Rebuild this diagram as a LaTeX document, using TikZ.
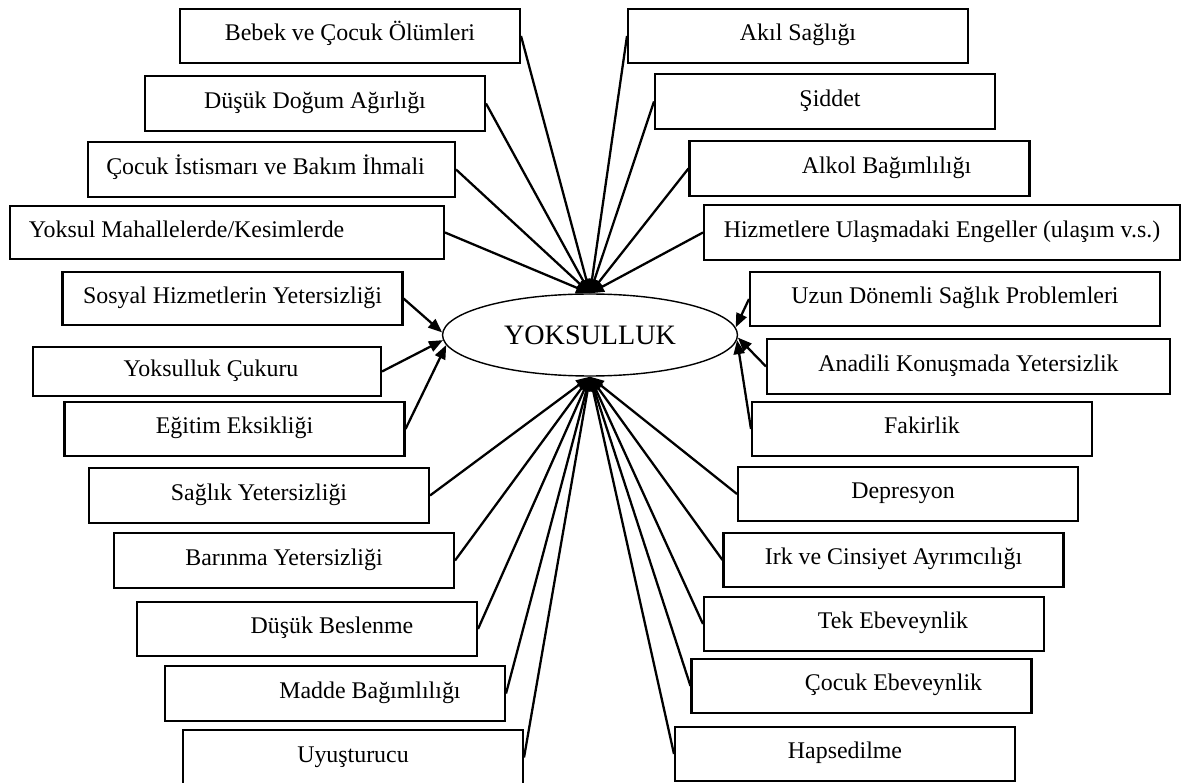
\documentclass[tikz,border=0pt]{standalone}
\usepackage{fontspec}
\setmainfont{Liberation Serif}
\usetikzlibrary{shapes.geometric}
\usetikzlibrary{arrows.meta}

\tikzset{
  cause/.style={draw, rectangle, line width=1.2pt, inner sep=0pt,
    minimum width=6.8cm, minimum height=1.09cm,
    text height=9pt, text depth=3.4pt,
    font=\fontsize{13.6}{16}\selectfont},
  center/.style={draw, ellipse, line width=0.8pt, inner sep=0pt,
    minimum width=5.9cm, minimum height=1.64cm,
    font=\fontsize{16}{19}\selectfont},
  link/.style={line width=1.3pt, -{Triangle[length=0.28cm,width=0.22cm]}},
}

\begin{document}
\begin{tikzpicture}[x=0.02cm, y=-0.02cm]

% page frame
\useasboundingbox (0,0) rectangle (1182,783);

% Centre
\node[center] (pov) at (590,335) {YOKSULLUK};

% Left column
\node[cause] (bebek)    at (350,36)    {Bebek ve Çocuk Ölümleri};
\node[cause] (dogum)    at (315,103.5) {Düşük Doğum Ağırlığı};
\node[cause, minimum width=7.34cm] (istismar) at (271.5,169.5) {Çocuk İstismarı ve Bakım İhmali\hspace*{6.8pt}};
\node[cause, minimum width=8.68cm, minimum height=1.06cm] (mahalle) at (227,232.5) {Yoksul Mahallelerde/Kesimlerde\hspace*{46pt}};
\node[cause, minimum height=1.06cm] (sosyal) at (232.5,298.5) {Sosyal Hizmetlerin Yetersizliği};
\node[cause, minimum width=6.96cm, minimum height=0.98cm] (cukur) at (207,371.5) {\hspace*{4.6pt}Yoksulluk Çukuru};
\node[cause] (egitim)   at (234.5,429)   {Eğitim Eksikliği};
\node[cause] (saglik)   at (259,495.5)   {Sağlık Yetersizliği};
\node[cause] (barinma)  at (284,560.5)   {Barınma Yetersizliği};
\node[cause] (beslenme) at (307,629)     {\hspace*{28.5pt}Düşük Beslenme};
\node[cause] (madde)    at (335,693.5)   {\hspace*{39.8pt}Madde Bağımlılığı};
\node[cause] (uyusturucu) at (353,757.5) {Uyuşturucu};

% Right column
\node[cause] (akil)     at (798,36)      {Akıl Sağlığı};
\node[cause] (siddet)   at (825,101.5)   {\hspace*{5.7pt}Şiddet};
\node[cause] (alkol)    at (859.5,168.5) {\hspace*{30.7pt}Alkol Bağımlılığı};
\node[cause, minimum width=9.52cm] (hizmet) at (942,232.5) {Hizmetlere Ulaşmadaki Engeller (ulaşım v.s.)};
\node[cause, minimum width=8.2cm]  (uzun)    at (955,299)   {Uzun Dönemli Sağlık Problemleri};
\node[cause, minimum width=8.06cm] (anadili) at (968.5,366.5) {Anadili Konuşmada Yetersizlik};
\node[cause] (fakirlik)  at (922,429)    {Fakirlik};
\node[cause] (depresyon) at (908,494)    {Depresyon\hspace*{5.7pt}};
\node[cause] (irk)       at (893.5,560)  {Irk ve Cinsiyet Ayrımcılığı};
\node[cause] (tek)       at (874,624)    {\hspace*{21.6pt}Tek Ebeveynlik};
\node[cause] (cocukeb)   at (861.5,686)  {\hspace*{36.4pt}Çocuk Ebeveynlik};
\node[cause] (hapis)     at (845,754)    {Hapsedilme};

% top bundle
\draw[link] (bebek.east)    -- (pov.north);
\draw[link] (dogum.east)    -- (pov.north);
\draw[link] (istismar.east) -- (pov.north);
\draw[link] (mahalle.east)  -- (pov.north);
\draw[link] (akil.west)     -- (pov.north);
\draw[link] (siddet.west)   -- (pov.north);
\draw[link] (alkol.west)    -- (pov.north);
\draw[link] (hizmet.west)   -- (pov.north);

% side arrows
\draw[link] (sosyal.east) -- (pov.179);
\draw[link] (cukur.east)  -- (pov.182);
\draw[link] (egitim.east) -- (pov.184);
\draw[link] (uzun.west)     -- (pov.3);
\draw[link] (anadili.west)  -- (pov.-1);
\draw[link] (fakirlik.west) -- (pov.-2);

% bottom bundle
\draw[link] (saglik.east)     -- (pov.south);
\draw[link] (barinma.east)    -- (pov.south);
\draw[link] (beslenme.east)   -- (pov.south);
\draw[link] (madde.east)      -- (pov.south);
\draw[link] (uyusturucu.east) -- (pov.south);
\draw[link] (depresyon.west)  -- (pov.south);
\draw[link] (irk.west)        -- (pov.south);
\draw[link] (tek.west)        -- (pov.south);
\draw[link] (cocukeb.west)    -- (pov.south);
\draw[link] (hapis.west)      -- (pov.south);

\end{tikzpicture}
\end{document}
